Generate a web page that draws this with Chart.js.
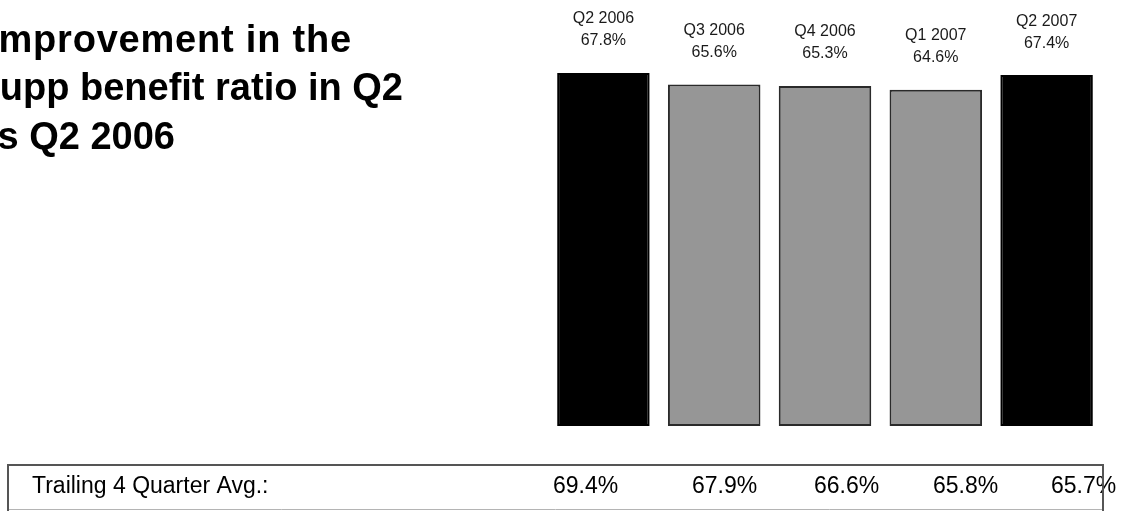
<!DOCTYPE html>
<html>
<head>
<meta charset="utf-8">
<script src="https://cdn.jsdelivr.net/npm/chart.js@4/dist/chart.umd.min.js"></script>
<style>
  html, body { margin: 0; padding: 0; background: #fff; overflow: hidden; }
  #wrap { position: relative; width: 1125px; height: 511px; }
</style>
</head>
<body>
<div id="wrap"><canvas id="ratioChart"></canvas></div>
<script>
// ================================================================
// DATOS
// ================================================================
const quarters = ['Q2 2006', 'Q3 2006', 'Q4 2006', 'Q1 2007', 'Q2 2007'];
const benefitRatio = [67.8, 65.6, 65.3, 64.6, 67.4];
const trailingAvg = [69.4, 67.9, 66.6, 65.8, 65.7];
const trailingLabel = 'Trailing 4 Quarter Avg.:';
const titleLines = ['Improvement in the', 'Supp benefit ratio in Q2', 'vs Q2 2006'];

// ================================================================
// ESTILO / LAYOUT
// ================================================================
const COLORS = {
    black: '#000000',
    gray: '#969696',
    border: '#2a2a2a',
    text: '#1a1a1a',
    boxDark: '#555555',
    boxLight: '#b4b4b4'
};

// right edge, baseline and letter spacing of each title line
// (the text runs off the left side of the page)
const TITLE_RIGHT = [352, 403, 175];
const TITLE_BASE = [52, 100, 149];
const TITLE_SPACING = ['0.8px', '0px', '0px'];
// left edge of each trailing-average value in the table
const TABLE_X = [553, 692, 814, 933, 1051];

const fmt = v => v.toFixed(1) + '%';

// ================================================================
// PLUGIN: título, etiquetas sobre barras y tabla inferior
// ================================================================
const extrasPlugin = {
    id: 'extras',
    afterDatasetsDraw(chart) {
        const ctx = chart.ctx;
        ctx.save();

        // title, bold, clipped by the left edge
        ctx.fillStyle = COLORS.black;
        ctx.font = 'bold 38px "Liberation Sans", Arial, sans-serif';
        ctx.textAlign = 'right';
        ctx.textBaseline = 'alphabetic';
        titleLines.forEach((line, i) => {
            ctx.letterSpacing = TITLE_SPACING[i];
            ctx.fillText(line, TITLE_RIGHT[i], TITLE_BASE[i]);
        });
        ctx.letterSpacing = '0px';

        // quarter + value above every bar
        ctx.font = '16px "Liberation Sans", Arial, sans-serif';
        ctx.fillStyle = COLORS.text;
        ctx.textAlign = 'center';
        ctx.textBaseline = 'middle';
        chart.getDatasetMeta(0).data.forEach((bar, i) => {
            ctx.fillText(quarters[i], bar.x, bar.y - 54);
            ctx.fillText(fmt(benefitRatio[i]), bar.x, bar.y - 32);
        });

        // trailing average table
        ctx.fillStyle = COLORS.black;
        ctx.font = '23px "Liberation Sans", Arial, sans-serif';
        ctx.textAlign = 'left';
        ctx.textBaseline = 'alphabetic';
        ctx.fillText(trailingLabel, 32, 493);
        trailingAvg.forEach((v, i) => ctx.fillText(fmt(v), TABLE_X[i], 493));

        ctx.strokeStyle = COLORS.boxLight;
        ctx.lineWidth = 1;
        ctx.beginPath();
        ctx.moveTo(8, 509.5);
        ctx.lineTo(1103, 509.5);
        ctx.stroke();

        ctx.strokeStyle = COLORS.boxDark;
        ctx.lineWidth = 2;
        ctx.beginPath();
        ctx.moveTo(8, 511);
        ctx.lineTo(8, 465);
        ctx.lineTo(1103, 465);
        ctx.lineTo(1103, 511);
        ctx.stroke();

        ctx.restore();
    }
};

// ================================================================
// GRÁFICO
// ================================================================
const lastIdx = benefitRatio.length - 1;
const isEdge = c => c.dataIndex === 0 || c.dataIndex === lastIdx;

new Chart(document.getElementById('ratioChart'), {
    type: 'bar',
    data: {
        labels: quarters,
        datasets: [{
            data: benefitRatio,
            backgroundColor: c => isEdge(c) ? COLORS.black : COLORS.gray,
            borderColor: c => isEdge(c) ? COLORS.black : COLORS.border,
            borderWidth: 2,
            borderSkipped: false,
            categoryPercentage: 1,
            barPercentage: 0.835
        }]
    },
    options: {
        responsive: true,
        maintainAspectRatio: false,
        animation: false,
        layout: {
            padding: { left: 548, right: 23, top: 9.5, bottom: 85 }
        },
        plugins: {
            legend: { display: false },
            tooltip: { enabled: false }
        },
        scales: {
            x: { display: false },
            y: { display: false, min: 0, max: 80 }
        }
    },
    plugins: [extrasPlugin]
});
</script>
</body>
</html>
